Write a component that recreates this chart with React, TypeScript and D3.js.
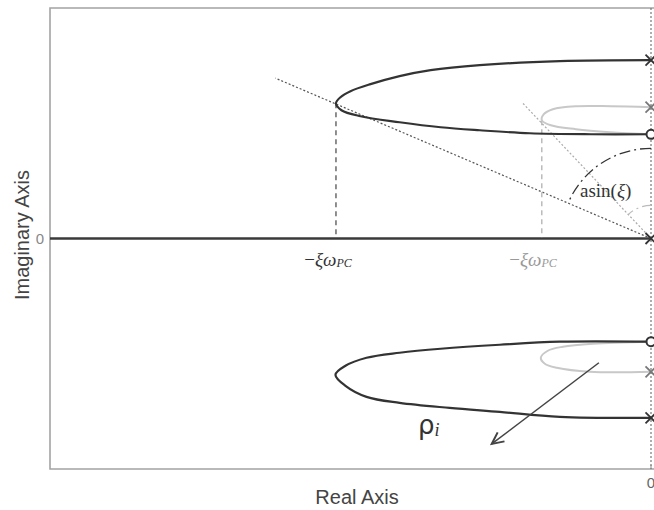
import React from "react";
import * as d3 from "d3";

// Root-locus branches, as [real, imag] points
const upperLocus: [number, number][] = [
  [0, 1.78], [-0.91, 1.77], [-1.71, 1.73], [-2.2, 1.68], [-2.51, 1.62], [-2.8, 1.54],
  [-3.0, 1.47], [-3.1, 1.41], [-3.145, 1.35], [-3.09, 1.28], [-2.9, 1.22], [-2.51, 1.16],
  [-2.1, 1.11], [-1.71, 1.08], [-1.21, 1.05], [-0.6, 1.04], [0, 1.04],
];
const lowerLocus: [number, number][] = [
  [0, -1.03], [-0.91, -1.03], [-1.51, -1.06], [-2.1, -1.1], [-2.51, -1.14], [-2.84, -1.19],
  [-3.05, -1.27], [-3.15, -1.36], [-3.05, -1.47], [-2.84, -1.58], [-2.51, -1.64],
  [-2.01, -1.69], [-1.51, -1.73], [-0.91, -1.78], [0, -1.79],
];
const upperLocusPC: [number, number][] = [
  [0, 1.31], [-0.4, 1.32], [-0.75, 1.32], [-0.98, 1.29], [-1.07, 1.24], [-1.09, 1.18],
  [-1.0, 1.13], [-0.75, 1.09], [-0.41, 1.06], [0, 1.04],
];
const lowerLocusPC: [number, number][] = [
  [0, -1.03], [-0.58, -1.05], [-0.88, -1.08], [-1.03, -1.12], [-1.1, -1.19],
  [-1.06, -1.25], [-0.94, -1.29], [-0.61, -1.33], [0, -1.33],
];

const polesMain: [number, number][] = [[0, 1.78], [0, -1.79], [0, 0]];
const polesPC: [number, number][] = [[0, 1.31], [0, -1.33]];
const zeros: [number, number][] = [[0, 1.04], [0, -1.03]];

// Damping rays from the origin and the breakaway tips they pass
const tipMain: [number, number] = [-3.145, 1.35];
const tipPC: [number, number] = [-1.09, 1.18];
const rayMainEnd: [number, number] = [-3.75, 1.6];
const rayPCEnd: [number, number] = [-1.28, 1.35];
const arcRadiusMain = 0.9;
const arcRadiusPC = 0.33;

// Gain direction arrow
const gainArrow: [number, number][] = [[-0.52, -1.24], [-1.59, -2.05]];

const xTicks = [0];
const yTicks = [0];

const W = 654;
const H = 510;
const left = 50;
const top = 8;
const bottom = 469;

const x = d3.scaleLinear().domain([-6, 0]).range([left, 651]);
const y = d3.scaleLinear().domain([-2.3, 2.3]).range([bottom, top]);

const line = d3
  .line<[number, number]>()
  .x((d) => x(d[0]))
  .y((d) => y(d[1]))
  .curve(d3.curveCatmullRom.alpha(0.5));

const straight = d3
  .line<[number, number]>()
  .x((d) => x(d[0]))
  .y((d) => y(d[1]));

function arcPath(ray: [number, number], r: number): string {
  const cx = x(0);
  const cy = y(0);
  const rPx = x(0) - x(-r);
  const a = Math.atan2(y(ray[1]) - cy, x(ray[0]) - cx);
  const p = d3.path();
  p.moveTo(cx, cy - rPx);
  p.arc(cx, cy, rPx, -Math.PI / 2, a, true);
  return p.toString();
}

function Cross({ p, color }: { p: [number, number]; color: string }) {
  const cx = x(p[0]);
  const cy = y(p[1]);
  const s = 5.5;
  return (
    <g stroke={color} strokeWidth={1.8}>
      <line x1={cx - s} y1={cy - s} x2={cx + s} y2={cy + s} />
      <line x1={cx - s} y1={cy + s} x2={cx + s} y2={cy - s} />
    </g>
  );
}

function PCLabel({ cx, color }: { cx: number; color: string }) {
  return (
    <text
      x={cx}
      y={266}
      textAnchor="middle"
      fill={color}
      fontFamily="'Liberation Serif', serif"
      fontSize={19}
    >
      <tspan>−</tspan>
      <tspan fontStyle="italic">ξω</tspan>
      <tspan fontSize={12} fontStyle="italic" dy={1}>PC</tspan>
    </text>
  );
}

export default function App() {
  const dark = "#333";
  const light = "#c8c8c8";
  const arrowEnd = gainArrow[1];
  const arrowStart = gainArrow[0];
  const ang = Math.atan2(y(arrowEnd[1]) - y(arrowStart[1]), x(arrowEnd[0]) - x(arrowStart[0]));
  const hl = 13;
  const hw = 0.45;
  const ax = x(arrowEnd[0]);
  const ay = y(arrowEnd[1]);

  return (
    <svg
      width={W}
      height={H}
      style={{ position: "absolute", left: 0, top: 0, background: "#fff" }}
    >
      {/* frame */}
      <path
        d={`M${W + 20},${top} H${left} V${bottom} H${W + 20}`}
        fill="none"
        stroke="#a3a3a3"
        strokeWidth={1.6}
      />

      {/* imaginary axis */}
      <line x1={x(0)} x2={x(0)} y1={top} y2={bottom} stroke="#777" strokeWidth={1.2} strokeDasharray="2,2" />

      {/* ticks */}
      {yTicks.map((t) => (
        <g key={`y${t}`}>
          <line x1={left} x2={left + 4} y1={y(t)} y2={y(t)} stroke="#888" />
          <text x={left - 10} y={y(t) + 5} textAnchor="middle" fontFamily="'Liberation Sans', Arial, sans-serif" fontSize={15} fill="#888">
            {t}
          </text>
        </g>
      ))}
      {xTicks.map((t) => (
        <g key={`x${t}`}>
          <line x1={x(t)} x2={x(t)} y1={bottom} y2={bottom - 4} stroke="#888" />
          <text x={x(t)} y={bottom + 19} textAnchor="middle" fontFamily="'Liberation Sans', Arial, sans-serif" fontSize={15} fill="#666">
            {t}
          </text>
        </g>
      ))}

      {/* real axis line */}
      <line x1={left} x2={x(0)} y1={y(0)} y2={y(0)} stroke="#3a3a3a" strokeWidth={2.6} />

      {/* axis titles */}
      <text x={357} y={504} textAnchor="middle" fontFamily="'Liberation Sans', Arial, sans-serif" fontSize={20} fill="#444">
        Real Axis
      </text>
      <text
        transform={`translate(29,235) rotate(-90)`}
        textAnchor="middle"
        fontFamily="'Liberation Sans', Arial, sans-serif"
        fontSize={20}
        fill="#444"
      >
        Imaginary Axis
      </text>

      {/* damping rays */}
      <path d={straight([[0, 0], rayMainEnd]) ?? ""} stroke="#555" strokeWidth={1.2} strokeDasharray="2,2" fill="none" />
      <path d={straight([[0, 0], rayPCEnd]) ?? ""} stroke="#aaa" strokeWidth={1.2} strokeDasharray="2,2" fill="none" />

      {/* -xi*omega drop lines */}
      <line x1={x(tipMain[0])} x2={x(tipMain[0])} y1={y(tipMain[1])} y2={y(0) - 1} stroke="#444" strokeWidth={1.2} strokeDasharray="5,4" />
      <line x1={x(tipPC[0])} x2={x(tipPC[0])} y1={y(tipPC[1])} y2={y(0) - 1} stroke="#aaa" strokeWidth={1.2} strokeDasharray="5,4" />

      {/* angle arcs */}
      <path d={arcPath(tipMain, arcRadiusMain)} fill="none" stroke="#333" strokeWidth={1.3} strokeDasharray="11,4,2,4" />
      <path d={arcPath(tipPC, arcRadiusPC)} fill="none" stroke="#bbb" strokeWidth={1.2} strokeDasharray="9,4,2,4" />

      {/* loci */}
      <path d={line(upperLocusPC) ?? ""} fill="none" stroke={light} strokeWidth={2} />
      <path d={line(lowerLocusPC) ?? ""} fill="none" stroke={light} strokeWidth={2} />
      <path d={line(upperLocus) ?? ""} fill="none" stroke={dark} strokeWidth={2.2} />
      <path d={line(lowerLocus) ?? ""} fill="none" stroke={dark} strokeWidth={2.2} />

      {/* poles and zeros */}
      {polesPC.map((p, i) => (
        <Cross key={`pc${i}`} p={p} color="#777" />
      ))}
      {polesMain.map((p, i) => (
        <Cross key={`pm${i}`} p={p} color={dark} />
      ))}
      {zeros.map((p, i) => (
        <circle key={`z${i}`} cx={x(p[0])} cy={y(p[1])} r={4.5} fill="#fff" stroke={dark} strokeWidth={2} />
      ))}

      {/* labels */}
      <PCLabel cx={328} color="#333" />
      <PCLabel cx={533} color="#999" />
      <text x={580} y={197} fontFamily="'Liberation Serif', serif" fontSize={19} fill="#333">
        asin(<tspan fontStyle="italic">ξ</tspan>)
      </text>

      {/* gain arrow */}
      <path d={straight(gainArrow) ?? ""} stroke="#444" strokeWidth={1.5} fill="none" />
      <path
        d={`M${ax + hl * Math.cos(ang + Math.PI - hw)},${ay + hl * Math.sin(ang + Math.PI - hw)} L${ax},${ay} L${ax + hl * Math.cos(ang + Math.PI + hw)},${ay + hl * Math.sin(ang + Math.PI + hw)}`}
        stroke="#444"
        strokeWidth={2}
        fill="none"
      />
      <text x={418} y={434} fontFamily="'DejaVu Sans', sans-serif" fontSize={26} fill="#333">
        ρ
        <tspan fontFamily="'Liberation Serif', serif" fontStyle="italic" fontSize={18} dy={2}>i</tspan>
      </text>
    </svg>
  );
}
